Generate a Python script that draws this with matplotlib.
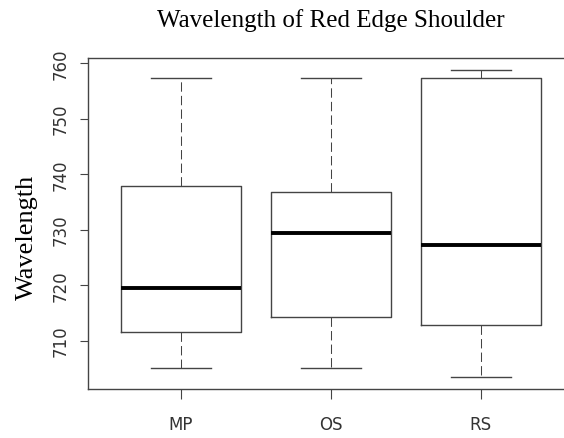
import matplotlib
matplotlib.use('Agg')
from matplotlib import pyplot as plt

# group names and five-number summaries
groups = ['MP', 'OS', 'RS']
lower = [705.1, 705.1, 703.5]
q1 = [711.6, 714.3, 712.9]
median = [719.5, 729.4, 727.3]
q3 = [737.8, 736.7, 757.3]
upper = [757.3, 757.3, 758.7]
yticks = [710, 720, 730, 740, 750, 760]

stats = []
for i in range(len(groups)):
    stats.append({'label': groups[i], 'whislo': lower[i], 'q1': q1[i],
                  'med': median[i], 'q3': q3[i], 'whishi': upper[i], 'fliers': []})

fig = plt.figure(figsize=(5.64, 4.39), dpi=100)
# the right edge of the frame runs off the picture, as in the original
ax = fig.add_axes([87.5 / 564, 49 / 439, 486 / 564, 331 / 439])

line_col = '#444444'
ax.bxp(stats, positions=range(1, len(groups) + 1), widths=0.8, capwidths=0.4,
       showfliers=False, patch_artist=False,
       boxprops=dict(color=line_col, linewidth=1.0),
       whiskerprops=dict(color=line_col, linewidth=0.75, linestyle=(0, (9, 4))),
       capprops=dict(color=line_col, linewidth=1.0),
       medianprops=dict(color='black', linewidth=2.8, solid_capstyle='butt'))

ax.set_xlim(0.38, 3.62)
ax.set_ylim(701.3, 760.9)
ax.set_yticks(yticks)
ax.set_yticklabels([str(v) for v in yticks], rotation=90, va='center')

tick_font = ['Liberation Sans Narrow', 'DejaVu Sans']
for lab in ax.get_xticklabels() + ax.get_yticklabels():
    lab.set_family(tick_font)
    lab.set_fontsize(12)
    lab.set_color('#333333')

ax.tick_params(axis='x', length=7, width=0.8, color=line_col, pad=12)
ax.tick_params(axis='y', length=6, width=0.8, color=line_col, pad=7)

for s in ax.spines.values():
    s.set_color(line_col)
    s.set_linewidth(1.0)
ax.spines['right'].set_visible(False)

ax.set_title('Wavelength of Red Edge Shoulder', family='Liberation Serif',
             fontsize=18, pad=23)
fig.text(27 / 564, 1 - 237 / 439, 'Wavelength', family='Liberation Serif',
         fontsize=19, rotation=90, ha='center', va='center')

fig.savefig('out.png', dpi=100)
